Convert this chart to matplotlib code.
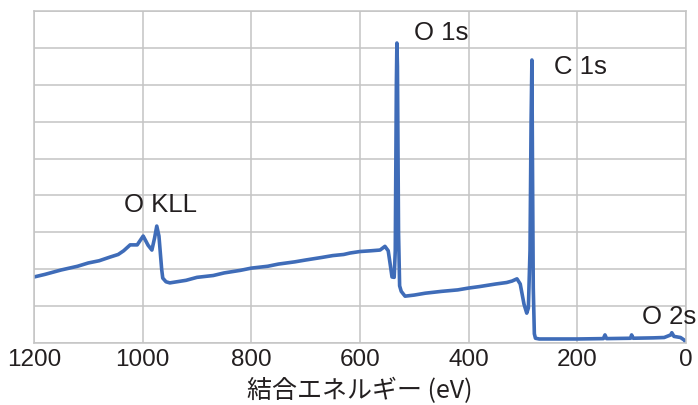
"""
XPS survey spectrum (wide scan) with peak labels.
"""
import matplotlib
matplotlib.use("Agg")
import matplotlib.pyplot as plt
import numpy as np

# binding energy (eV) and intensity (arbitrary units, grid steps)
ENERGY = [
    1200, 1180, 1150, 1120, 1100, 1080, 1060, 1045, 1035, 1023, 1010,
    999, 990, 983, 978, 974, 970, 965, 963, 957, 950,
    920, 900, 870, 850, 820, 800, 770, 750, 720, 700, 670, 650, 630, 618,
    600, 580, 563, 554, 548, 544, 541, 537, 535, 533, 532, 531, 529, 527,
    524, 517, 500, 480, 450, 420, 400, 380, 350, 330, 320, 311, 305, 298,
    293, 290, 287, 285, 283.5, 282.5, 281, 279, 277, 270, 240, 200,
    152, 149, 146, 102, 100, 97, 60, 40, 28, 26, 22, 10, 3, 0,
]
INTENSITY = [
    1.79, 1.86, 1.98, 2.08, 2.17, 2.23, 2.33, 2.40, 2.50, 2.66, 2.66,
    2.90, 2.65, 2.52, 2.85, 3.17, 2.90, 2.00, 1.76, 1.66, 1.63,
    1.70, 1.78, 1.83, 1.90, 1.97, 2.03, 2.08, 2.14, 2.20, 2.25, 2.32, 2.37, 2.40, 2.44,
    2.48, 2.50, 2.52, 2.62, 2.50, 2.10, 1.79, 1.78, 2.50, 7.00, 8.13, 7.50, 3.00, 1.55,
    1.40, 1.27, 1.30, 1.35, 1.40, 1.44, 1.49, 1.53, 1.60, 1.64, 1.68, 1.74, 1.60, 1.05,
    0.81, 0.95, 2.50, 6.00, 7.67, 5.00, 1.50, 0.25, 0.13, 0.11, 0.11, 0.11,
    0.12, 0.22, 0.12, 0.13, 0.22, 0.13, 0.14, 0.15, 0.22, 0.28, 0.18, 0.15, 0.08, 0.00,
]

# peak labels: text, energy, intensity
PEAK_LABELS = ["O KLL", "O 1s", "C 1s", "O 2s"]
PEAK_X = [968, 451, 195, 31]
PEAK_Y = [3.74, 8.40, 7.48, 0.70]

X_TICKS = [1200, 1000, 800, 600, 400, 200, 0]
X_LABEL = "結合エネルギー (eV)"

LINE_COLOR = "#3f6cb8"
GRID_COLOR = "#c4c4c4"

plt.rcParams["font.family"] = ["Liberation Sans", "Noto Sans CJK JP", "DejaVu Sans"]

fig = plt.figure(figsize=(6.98, 4.05), dpi=100)
ax = fig.add_axes([0.0487, 0.153, 0.934, 0.820])

ax.plot(ENERGY, INTENSITY, color=LINE_COLOR, lw=2.6, solid_joinstyle="round")

ax.set_xlim(1200, 0)
ax.set_ylim(0, 9)
ax.set_xticks(X_TICKS)
ax.set_xticklabels([str(t) for t in X_TICKS])
ax.set_yticks(np.arange(0, 10, 1))
ax.set_yticklabels([])
ax.tick_params(axis="both", length=0)
ax.tick_params(axis="x", labelsize=17.5, pad=4, colors="#231f20")
ax.grid(True, color=GRID_COLOR, lw=1.1)
ax.set_axisbelow(True)
for side in ax.spines.values():
    side.set_color(GRID_COLOR)
    side.set_linewidth(1.1)

ax.set_xlabel(X_LABEL, fontsize=18, color="#231f20",
              family=["Noto Sans CJK JP", "DejaVu Sans"], labelpad=5)

for text, x, y in zip(PEAK_LABELS, PEAK_X, PEAK_Y):
    ax.text(x, y, text, ha="center", va="center", fontsize=18.5,
            color="#231f20", clip_on=False)

fig.savefig("out.png", dpi=100, facecolor="white")
